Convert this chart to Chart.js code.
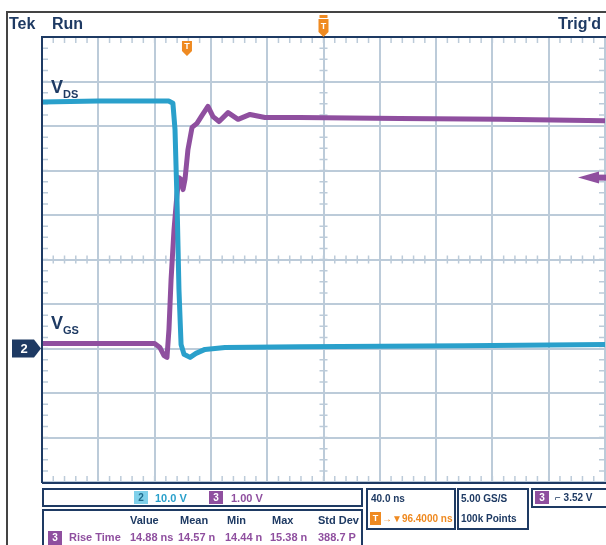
<!DOCTYPE html>
<html><head><meta charset="utf-8">
<script src="https://cdn.jsdelivr.net/npm/chart.js@4"></script>
<style>
html,body{margin:0;padding:0;background:#fff;width:606px;height:545px;overflow:hidden;}
#wrap{position:relative;width:606px;height:545px;overflow:hidden;}
canvas{position:absolute;left:0;top:0;}
.t{position:absolute;font-family:"Liberation Sans Narrow","Liberation Sans",Arial,sans-serif;font-weight:bold;color:#1e3a63;white-space:nowrap;line-height:1;}
.ln{position:absolute;background:#1e3a63;}
.box{position:absolute;border:2px solid #1e3a63;box-sizing:border-box;background:#fff;}
.cy{color:#2aa0cb;}
.pu{color:#8f4f9f;}
.or{color:#ef8a21;}
</style></head>
<body><div id="wrap">
<canvas id="c" width="606" height="545"></canvas>
<div class="ln" style="left:6px;top:11px;width:600px;height:2px;background:#444;"></div>
<div class="ln" style="left:6px;top:11px;width:2px;height:534px;background:#444;"></div>
<div class="t" style="left:9px;top:16px;font-size:16px;">Tek</div>
<div class="t" style="left:52px;top:16px;font-size:16px;">Run</div>
<div class="t" style="right:5px;top:16px;font-size:16px;">Trig'd</div>
<div class="t" style="left:51px;top:78px;font-size:18px;">V<span style="font-size:11px;position:relative;top:5px;">DS</span></div>
<div class="t" style="left:51px;top:314px;font-size:18px;">V<span style="font-size:11px;position:relative;top:5px;">GS</span></div>

<div class="box" style="left:42px;top:488px;width:321px;height:19px;"></div>
<div class="t" style="left:134px;top:491px;width:14px;height:13px;background:#7fd0ea;color:#1e6a8a;font-size:10px;text-align:center;line-height:13px;">2</div>
<div class="t cy" style="left:155px;top:493px;font-size:11px;">10.0 V</div>
<div class="t" style="left:209px;top:491px;width:14px;height:13px;background:#8f4f9f;color:#fff;font-size:10px;text-align:center;line-height:13px;">3</div>
<div class="t pu" style="left:231px;top:493px;font-size:11px;">1.00 V</div>

<div class="box" style="left:42px;top:509px;width:321px;height:40px;"></div>
<div class="t" style="left:130px;top:515px;font-size:11px;">Value</div>
<div class="t" style="left:180px;top:515px;font-size:11px;">Mean</div>
<div class="t" style="left:227px;top:515px;font-size:11px;">Min</div>
<div class="t" style="left:272px;top:515px;font-size:11px;">Max</div>
<div class="t" style="left:318px;top:515px;font-size:11px;">Std Dev</div>
<div class="t" style="left:48px;top:531px;width:14px;height:14px;background:#8f4f9f;color:#fff;font-size:10px;text-align:center;line-height:14px;">3</div>
<div class="t pu" style="left:69px;top:532px;font-size:11px;">Rise Time</div>
<div class="t pu" style="left:130px;top:532px;font-size:11px;">14.88 ns</div>
<div class="t pu" style="left:178px;top:532px;font-size:11px;">14.57 n</div>
<div class="t pu" style="left:225px;top:532px;font-size:11px;">14.44 n</div>
<div class="t pu" style="left:270px;top:532px;font-size:11px;">15.38 n</div>
<div class="t pu" style="left:318px;top:532px;font-size:11px;">388.7 P</div>

<div class="box" style="left:366px;top:488px;width:90px;height:42px;"></div>
<div class="t" style="left:371px;top:494px;font-size:10px;">40.0 ns</div>
<div class="t" style="left:370px;top:512px;width:11px;height:13px;background:#ef8a21;color:#fff;font-size:9px;text-align:center;line-height:13px;">T</div>
<div class="t or" style="left:382px;top:514px;font-size:10px;">→▼96.4000 ns</div>

<div class="box" style="left:457px;top:488px;width:72px;height:42px;"></div>
<div class="t" style="left:461px;top:494px;font-size:10px;">5.00 GS/S</div>
<div class="t" style="left:461px;top:514px;font-size:10px;">100k Points</div>

<div class="box" style="left:531px;top:488px;width:78px;height:20px;"></div>
<div class="t" style="left:535px;top:491px;width:14px;height:13px;background:#8f4f9f;color:#fff;font-size:10px;text-align:center;line-height:13px;">3</div>
<div class="t" style="left:555px;top:493px;font-size:10px;">⌐ 3.52 V</div>
</div>
<script>
// ---- data (time in ns, 40 ns/div) ----
const tVds = [0, 40, 90, 93, 94.5, 95.9, 97.3, 98.8, 100.9, 105.2, 109.4, 115.8, 130, 183, 300, 401];
const vds  = [55.4, 55.6, 55.6, 55.1, 49.2, 33.5, 13.3, 0.9, -1.3, -2.0, -1.1, -0.2, 0.2, 0.4, 0.6, 0.9];   // ch2, 10 V/div
const tVgs = [0, 80, 83.8, 86.7, 88.8, 90.2, 91.7, 93.8, 95.9, 97.3, 98.8, 100.2, 101.6, 103.7, 106.6, 110.1, 113.7, 117.9, 121.5, 125.8, 132.2, 139.3, 147.8, 158.4, 183, 254, 325, 401];
const vgs  = [0.11, 0.11, 0.02, -0.16, -0.2, 0.43, 1.55, 2.67, 3.46, 3.84, 3.80, 3.57, 3.80, 4.47, 4.97, 5.06, 5.24, 5.44, 5.21, 5.10, 5.30, 5.15, 5.26, 5.19, 5.19, 5.17, 5.15, 5.12];   // ch3, 1 V/div
const timeTicks = [0, 40, 80, 120, 160, 200, 240, 280, 320, 360, 400];
const vdsTicks = [-30, -20, -10, 0, 10, 20, 30, 40, 50, 60, 70];
const trigLevel = 3.84;   // ch3 trigger arrow position
const trigTime = 103;     // trigger position marker
const expandTime = 200;   // top marker

const CYAN = '#2aa0cb', PURPLE = '#8f4f9f', NAVY = '#1e3a63', GRID = '#bccbd9', ORANGE = '#ef8a21';

const scopePlugin = {
  id: 'scope',
  beforeDatasetsDraw(chart) {
    const {ctx, chartArea: a, scales: {x, y}} = chart;
    ctx.save();
    ctx.strokeStyle = GRID; ctx.lineWidth = 2;
    timeTicks.forEach(t => { const px = Math.round(x.getPixelForValue(t)); ctx.beginPath(); ctx.moveTo(px, a.top); ctx.lineTo(px, a.bottom); ctx.stroke(); });
    vdsTicks.forEach(v => { const py = Math.round(y.getPixelForValue(v)); ctx.beginPath(); ctx.moveTo(a.left, py); ctx.lineTo(a.right, py); ctx.stroke(); });
    const cx = x.getPixelForValue(200), cy = y.getPixelForValue(20);
    ctx.lineWidth = 1.5;
    for (let t = 0; t <= 400; t += 8) {
      const px = x.getPixelForValue(t);
      ctx.beginPath();
      ctx.moveTo(px, a.top); ctx.lineTo(px, a.top + 6);
      ctx.moveTo(px, a.bottom); ctx.lineTo(px, a.bottom - 6);
      ctx.moveTo(px, cy - 4); ctx.lineTo(px, cy + 4);
      ctx.stroke();
    }
    for (let v = -30; v <= 70; v += 2.5) {
      const py = y.getPixelForValue(v);
      ctx.beginPath();
      ctx.moveTo(a.left, py); ctx.lineTo(a.left + 6, py);
      ctx.moveTo(a.right, py); ctx.lineTo(a.right - 6, py);
      ctx.moveTo(cx - 4, py); ctx.lineTo(cx + 4, py);
      ctx.stroke();
    }
    ctx.restore();
  },
  afterDatasetsDraw(chart) {
    const {ctx, chartArea: a, scales: {x, y, y3}} = chart;
    ctx.save();
    ctx.strokeStyle = NAVY; ctx.lineWidth = 2;
    ctx.beginPath();
    ctx.moveTo(a.left, a.bottom + 1); ctx.lineTo(a.left, a.top); ctx.lineTo(606, a.top);
    ctx.moveTo(a.left, a.bottom + 1); ctx.lineTo(606, a.bottom + 1);
    ctx.stroke();
    const gy = y.getPixelForValue(0);
    ctx.fillStyle = NAVY;
    ctx.beginPath();
    ctx.moveTo(12, gy - 9); ctx.lineTo(34, gy - 9); ctx.lineTo(41, gy); ctx.lineTo(34, gy + 9); ctx.lineTo(12, gy + 9); ctx.closePath(); ctx.fill();
    ctx.fillStyle = '#fff'; ctx.font = 'bold 13px "Liberation Sans", Arial'; ctx.textAlign = 'center'; ctx.textBaseline = 'middle';
    ctx.fillText('2', 24, gy + 1);
    const ty = y3.getPixelForValue(trigLevel);
    ctx.fillStyle = PURPLE;
    ctx.beginPath(); ctx.moveTo(578, ty); ctx.lineTo(599, ty - 6); ctx.lineTo(599, ty + 6); ctx.closePath(); ctx.fill();
    ctx.fillRect(598, ty - 3, 8, 6);
    const drawT = (px, top, h) => {
      ctx.fillStyle = ORANGE;
      ctx.beginPath();
      ctx.moveTo(px - 5, top); ctx.lineTo(px + 5, top); ctx.lineTo(px + 5, top + h); ctx.lineTo(px, top + h + 5); ctx.lineTo(px - 5, top + h); ctx.closePath(); ctx.fill();
      ctx.fillStyle = '#fff'; ctx.font = 'bold 9px "Liberation Sans", Arial';
      ctx.fillText('T', px, top + h / 2 + 1);
    };
    drawT(x.getPixelForValue(trigTime), 41, 10);
    const ex = x.getPixelForValue(expandTime);
    drawT(ex, 19, 13);
    ctx.fillStyle = ORANGE; ctx.fillRect(ex - 4, 15, 8, 3);
    ctx.restore();
  }
};

new Chart(document.getElementById('c'), {
  type: 'line',
  data: {
    datasets: [
      { label: 'VDS', data: tVds.map((t, i) => ({x: t, y: vds[i]})), yAxisID: 'y', borderColor: CYAN, borderWidth: 5, pointRadius: 0, tension: 0, borderJoinStyle: 'round', borderCapStyle: 'round' },
      { label: 'VGS', data: tVgs.map((t, i) => ({x: t, y: vgs[i]})), yAxisID: 'y3', borderColor: PURPLE, borderWidth: 5, pointRadius: 0, tension: 0, borderJoinStyle: 'round', borderCapStyle: 'round' }
    ]
  },
  options: {
    responsive: false, animation: false, devicePixelRatio: 1,
    layout: { padding: { left: 42, top: 37, right: 1, bottom: 63 } },
    plugins: { legend: { display: false }, tooltip: { enabled: false } },
    scales: {
      x: { type: 'linear', min: 0, max: 400, display: false },
      y: { type: 'linear', min: -30, max: 70, display: false },
      y3: { type: 'linear', min: -3, max: 7, display: false }
    }
  },
  plugins: [scopePlugin]
});
</script>
</body></html>
